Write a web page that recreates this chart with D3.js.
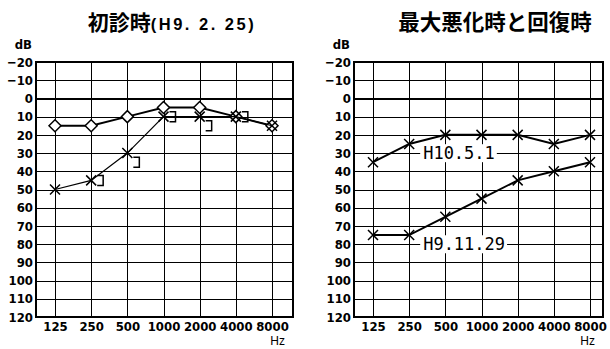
<!DOCTYPE html>
<html>
<head>
<meta charset="utf-8">
<script src="https://cdn.jsdelivr.net/npm/d3@7"></script>
<style>
  body { margin: 0; background: #fff; }
  .tick text, .lab { font-stretch: condensed; }
</style>
</head>
<body>
<script>
// frequencies (Hz) and hearing level ticks (dB)
var freqs = [125, 250, 500, 1000, 2000, 4000, 8000];
var dbTicks = [-20, -10, 0, 10, 20, 30, 40, 50, 60, 70, 80, 90, 100, 110, 120];

// first visit (H9.2.25)
var firstRight = [15, 15, 10, 5, 5, 10, 15];      // diamonds
var firstLeft = [50, 45, 30, 10, 10, 10, 15];     // crosses
var boneFreqs = [250, 500, 1000, 2000, 4000];
var firstLeftBone = [45, 35, 10, 15, 10];         // "]" marks

// worst and recovered
var worstLeft = [75, 75, 65, 55, 45, 40, 35];     // H9.11.29
var recoveredLeft = [35, 25, 20, 20, 20, 25, 20]; // H10.5.1
var dateLabels = ["H10.5.1", "H9.11.29"];
var dateLevels = [30, 80];

var tickFont = '"DejaVu Sans Condensed","DejaVu Sans",sans-serif';
var cjkFont = '"Noto Sans CJK JP","Noto Sans CJK SC",sans-serif';
var monoFont = '"DejaVu Sans Mono","Liberation Mono",monospace';

var svg = d3.select("body").append("svg")
    .attr("width", 610)
    .attr("height", 349);

var plotTop = 62, plotBottom = 317;

function drawPanel(opt) {
  var x = d3.scaleLog().base(2).domain([125, 8000]).range([opt.x125, opt.x8000]);
  var y = d3.scaleLinear().domain([-20, 120]).range([plotTop, plotBottom]);
  var g = svg.append("g");

  // horizontal grid + dB labels
  var ya = g.append("g")
      .attr("transform", "translate(" + opt.left + ",0)")
      .call(d3.axisLeft(y).tickValues(dbTicks).tickSize(-(opt.right - opt.left)).tickPadding(3));
  ya.select(".domain").remove();
  ya.selectAll("line").attr("stroke", "#000").attr("shape-rendering", "crispEdges")
    .attr("stroke-width", function(d) { return d === 0 ? 2 : 1; });
  ya.selectAll("text").attr("font-family", tickFont).attr("font-weight", "bold")
    .attr("font-size", 13).attr("fill", "#000");

  // vertical grid + frequency labels
  var xa = g.append("g")
      .attr("transform", "translate(0," + plotBottom + ")")
      .call(d3.axisBottom(x).tickValues(freqs).tickSize(-(plotBottom - plotTop)).tickPadding(5)
        .tickFormat(d3.format("d")));
  xa.select(".domain").remove();
  xa.selectAll("line").attr("stroke", "#000").attr("stroke-width", 1).attr("shape-rendering", "crispEdges");
  xa.selectAll("text").attr("font-family", tickFont).attr("font-weight", "bold")
    .attr("font-size", 13).attr("fill", "#000");

  // frame
  g.append("rect")
    .attr("x", opt.left).attr("y", plotTop)
    .attr("width", opt.right - opt.left).attr("height", plotBottom - plotTop)
    .attr("fill", "none").attr("stroke", "#000").attr("stroke-width", 2);

  g.append("text").attr("class", "lab").attr("x", opt.left - 4).attr("y", 49)
    .attr("text-anchor", "end").attr("font-family", tickFont).attr("font-weight", "bold")
    .attr("font-size", 13).text("dB");
  g.append("text").attr("x", opt.right - 8).attr("y", 345)
    .attr("text-anchor", "end").attr("font-family", "Liberation Sans, Arial, sans-serif")
    .attr("font-size", 12).text("Hz");

  return { g: g, x: x, y: y };
}

function drawSeries(p, values, width, marker) {
  var line = d3.line()
      .x(function(d, i) { return p.x(freqs[i]); })
      .y(function(d) { return p.y(d); });
  p.g.append("path").datum(values)
    .attr("d", line).attr("fill", "none").attr("stroke", "#000").attr("stroke-width", width);
  var shape = marker === "diamond" ? "M0,-6L6,0L0,6L-6,0Z" : "M-5,-5L5,5M-5,5L5,-5";
  p.g.selectAll(null).data(values).enter().append("path")
    .attr("transform", function(d, i) { return "translate(" + p.x(freqs[i]) + "," + p.y(d) + ")"; })
    .attr("d", shape)
    .attr("fill", marker === "diamond" ? "#fff" : "none")
    .attr("stroke", "#000").attr("stroke-width", 1.5);
}

// ---- left panel: first visit ----
var p1 = drawPanel({ left: 36, right: 293, x125: 55, x8000: 272 });
drawSeries(p1, firstRight, 2, "diamond");
drawSeries(p1, firstLeft, 1.2, "cross");
p1.g.selectAll(null).data(firstLeftBone).enter().append("path")
  .attr("transform", function(d, i) { return "translate(" + p1.x(boneFreqs[i]) + "," + p1.y(d) + ")"; })
  .attr("d", "M6,-5h6v10h-6")
  .attr("fill", "none").attr("stroke", "#000").attr("stroke-width", 1.5);

var t1 = svg.append("text").attr("x", 172).attr("y", 30).attr("text-anchor", "middle")
  .attr("font-weight", "bold");
t1.append("tspan").attr("font-family", cjkFont).attr("font-size", 21).text("初診時");
t1.append("tspan").attr("font-family", "Liberation Sans, Arial, sans-serif").attr("font-size", 16.5)
  .attr("letter-spacing", 2.5).text("(H9. 2. 25)");

// ---- right panel: worst and recovered ----
var p2 = drawPanel({ left: 354, right: 603, x125: 373, x8000: 590 });

dateLabels.forEach(function(label, i) {
  var t = p2.g.append("text")
    .attr("x", p2.x(250) + 14).attr("y", p2.y(dateLevels[i]))
    .attr("dy", "0.36em")
    .attr("font-family", monoFont).attr("font-size", 17)
    .text(label);
  var bb = t.node().getBBox();
  p2.g.insert("rect", function() { return t.node(); })
    .attr("x", bb.x - 3).attr("y", bb.y + 1)
    .attr("width", bb.width + 5).attr("height", bb.height - 2)
    .attr("fill", "#fff");
});

drawSeries(p2, recoveredLeft, 2, "cross");
drawSeries(p2, worstLeft, 2, "cross");

svg.append("text").attr("x", 495).attr("y", 30).attr("text-anchor", "middle")
  .attr("font-family", cjkFont).attr("font-weight", "bold").attr("font-size", 21.5)
  .text("最大悪化時と回復時");
</script>
</body>
</html>
